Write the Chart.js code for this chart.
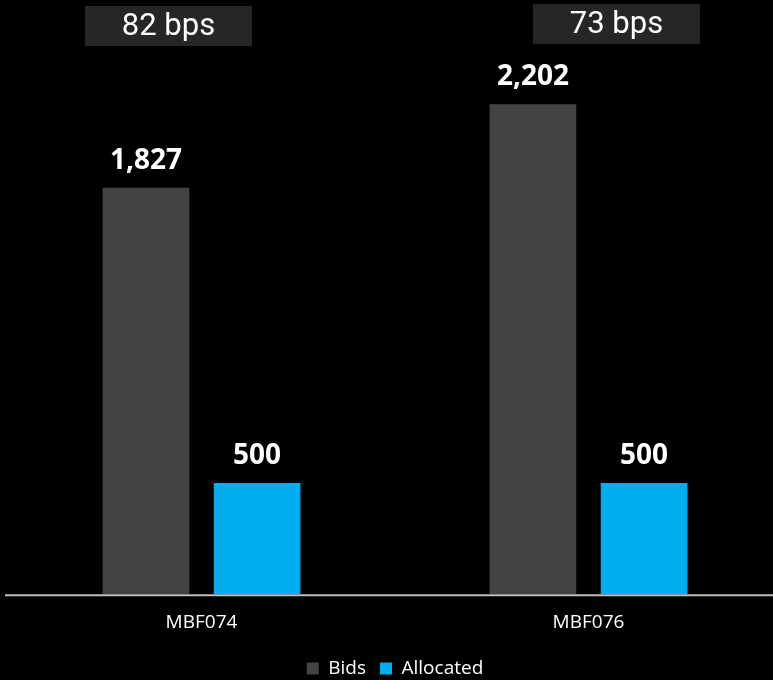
<!DOCTYPE html>
<html>
<head>
<meta charset="utf-8">
<script src="https://cdn.jsdelivr.net/npm/chart.js@4.4.1/dist/chart.umd.min.js"></script>
<style>
  html, body { margin: 0; padding: 0; background: #000; overflow: hidden; }
  #wrap { position: absolute; left: 0; top: 0; width: 782px; height: 680px; }
</style>
</head>
<body>
<div id="wrap"><canvas id="chart" width="782" height="680"></canvas></div>
<script>
const issues = ['MBF074', 'MBF076']
const bids = [1827, 2202]
const allocated = [500, 500]
const spreads = ['82 bps', '73 bps']

// value labels over each bar
const barValues = {
  id: 'barValues',
  afterDatasetsDraw(chart) {
    const ctx = chart.ctx
    ctx.save()
    ctx.fillStyle = '#fff'
    ctx.font = 'bold 28px "Open Sans", sans-serif'
    ctx.textAlign = 'center'
    ctx.textBaseline = 'alphabetic'
    chart.data.datasets.forEach((ds, i) => {
      chart.getDatasetMeta(i).data.forEach((bar, j) => {
        ctx.fillText(ds.data[j].toLocaleString('en-US'), bar.x, bar.y - 19)
      })
    })
    ctx.restore()
  }
}

// spread boxes above each issue + the baseline
const spreadBoxes = {
  id: 'spreadBoxes',
  afterDraw(chart) {
    const ctx = chart.ctx
    const boxes = [{ x: 85, y: 6 }, { x: 533, y: 4 }]
    ctx.save()
    ctx.font = '31px Roboto, sans-serif'
    ctx.textAlign = 'center'
    ctx.textBaseline = 'middle'
    spreads.forEach((txt, i) => {
      const b = boxes[i]
      ctx.fillStyle = '#262626'
      ctx.fillRect(b.x, b.y, 167, 40)
      ctx.fillStyle = '#fff'
      ctx.fillText(txt, b.x + 83.5, b.y + 21)
    })
    const y = chart.scales.y.getPixelForValue(0)
    ctx.strokeStyle = '#BFBFBF'
    ctx.lineWidth = 2
    ctx.beginPath()
    ctx.moveTo(5, y + 1)
    ctx.lineTo(chart.width, y + 1)
    ctx.stroke()
    ctx.restore()
  }
}

new Chart(document.getElementById('chart').getContext('2d'), {
  type: 'bar',
  data: {
    labels: issues,
    datasets: [
      { label: 'Bids', data: bids, backgroundColor: '#434343' },
      { label: 'Allocated', data: allocated, backgroundColor: '#00AEEF' }
    ]
  },
  options: {
    responsive: false,
    animation: false,
    layout: { padding: { left: 8, right: 0, top: 38, bottom: -8 } },
    categoryPercentage: 0.574,
    barPercentage: 0.78,
    scales: {
      x: {
        grid: { display: false },
        border: { display: false },
        ticks: { color: '#fff', font: { family: '"Open Sans", sans-serif', size: 19 }, padding: 9 },
        afterFit(scale) { scale.height += 2 }
      },
      y: {
        display: false,
        min: 0,
        max: 2500
      }
    },
    plugins: {
      legend: {
        position: 'bottom',
        labels: {
          color: '#fff',
          boxWidth: 12,
          boxHeight: 12,
          padding: 14,
          font: { family: '"Open Sans", sans-serif', size: 19 }
        }
      },
      tooltip: { enabled: false }
    }
  },
  plugins: [barValues, spreadBoxes]
})
</script>
</body>
</html>
